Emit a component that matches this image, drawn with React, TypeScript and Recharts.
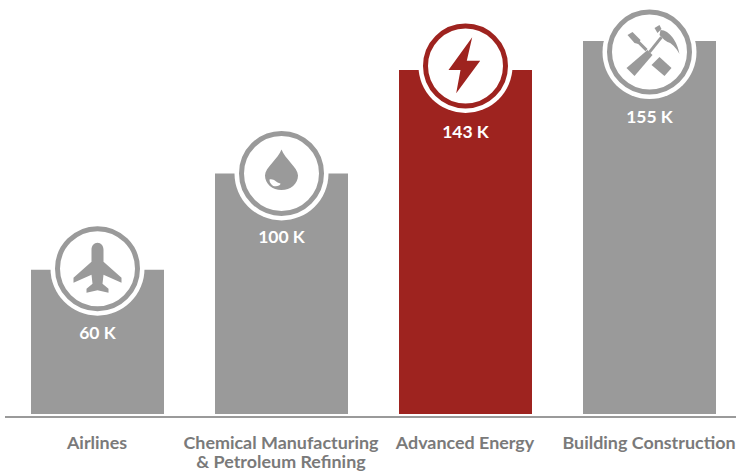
import { BarChart, Bar, XAxis, YAxis, Cell, LabelList } from "recharts";

const categories = [
  "Airlines",
  "Chemical Manufacturing\n& Petroleum Refining",
  "Advanced Energy",
  "Building Construction",
];
const jobs = [60, 100, 143, 155];
const highlighted = "Advanced Energy";

const chartData = categories.map((name, i) => ({ name, jobs: jobs[i] }));

const GREY = "#9a9a9a";
const RED = "#9e231f";
const FONT = "Lato, sans-serif";

// the badges and values don't sit at a constant spot on the bars in the original
const badgeShift = [-1, 0, -4, 11];
const valueDrop = [70.5, 69.5, 72.5, 70.5];

function Plane({ fill }: { fill: string }) {
  return (
    <path
      fill={fill}
      d="M0 -26 C3.5 -26 6 -23 6 -19 L6 -7 L24 9 L24 14 L6 6 L5 15 L11 20 L11 24 L0 21.5 L-11 24 L-11 20 L-5 15 L-6 6 L-24 14 L-24 9 L-6 -7 L-6 -19 C-6 -23 -3.5 -26 0 -26 Z"
    />
  );
}

function Drop({ fill }: { fill: string }) {
  return (
    <g>
      <path
        fill={fill}
        d="M0 -24 C3 -15 16.5 -6 16.5 2 C16.5 10.5 9 16.5 0 16.5 C-9 16.5 -16.5 10.5 -16.5 2 C-16.5 -6 -3 -15 0 -24 Z"
      />
      <path
        fill="#fff"
        d="M-12 6 C-7 5 -6 9 -1 10 C-1 13 -8 14 -10 11 C-11.5 9.5 -12 8 -12 6 Z"
      />
    </g>
  );
}

function Bolt({ fill }: { fill: string }) {
  return (
    <path
      fill={fill}
      d="M6.7 -28.7 L-17 4 L-5 4 L-9.3 27.3 L14.7 -5.3 L1.3 -5.3 Z"
    />
  );
}

function Tools({ fill }: { fill: string }) {
  return (
    <g fill={fill}>
      <path d="M-23 16 L-2 -2 L3 3 L-15 24 Z" />
      <path d="M0 0 L12 -15" stroke={fill} strokeWidth={3} />
      <path d="M5 -24 L10 -27 L12 -23 L8 -19 Z" />
      <path d="M11 -22 C20 -22 28 -10 30 2 C26 -5 22 -9 18 -10 L15 -12 L10 -17 Z" />
      <path d="M-22 -17 L-17 -20 L-9 -12 L-11 -8 L-15 -9 Z" />
      <path d="M-12 -11 L-3 -2" stroke={fill} strokeWidth={3} />
      <path d="M2 13 L10 5 L22 16 L15 24 Z" />
    </g>
  );
}

const icons = [Plane, Drop, Bolt, Tools];

function BadgeLabel(props: any) {
  const { x, y, width, index, value } = props;
  const color = categories[index] === highlighted ? RED : GREY;
  const Icon = icons[index];
  const cx = x + width / 2;
  const cy = y + badgeShift[index];
  return (
    <g>
      <circle cx={cx} cy={cy} r={47} fill="#fff" />
      <circle cx={cx} cy={cy} r={40} fill="#fff" stroke={color} strokeWidth={5} />
      <g transform={`translate(${cx},${cy})`}>
        <Icon fill={color} />
      </g>
      <text
        x={cx}
        y={cy + valueDrop[index]}
        textAnchor="middle"
        fill="#fff"
        fontFamily={FONT}
        fontWeight={700}
        fontSize={17.5}
      >
        {`${value} K`}
      </text>
    </g>
  );
}

function CategoryTick(props: any) {
  const { x, payload } = props;
  return (
    <text
      textAnchor="middle"
      fill="#7a7a7a"
      fontFamily={FONT}
      fontWeight={700}
      fontSize={17.9}
    >
      {String(payload.value)
        .split("\n")
        .map((line, i) => (
          <tspan key={i} x={x} y={449 + i * 19}>
            {line}
          </tspan>
        ))}
    </text>
  );
}

export default function App() {
  return (
    <div style={{ width: 736, height: 471, overflow: "hidden" }}>
      <style>{"body { margin: 0; }"}</style>
      <BarChart
        width={742}
        height={471}
        data={chartData}
        margin={{ top: 0, right: 1, bottom: 0, left: 5 }}
      >
        <XAxis
          dataKey="name"
          height={54}
          interval={0}
          tickLine={false}
          axisLine={{ stroke: GREY, strokeWidth: 2 }}
          tick={<CategoryTick />}
        />
        <YAxis hide domain={[-1.25, 172.07]} />
        <Bar dataKey="jobs" barSize={133} isAnimationActive={false}>
          {chartData.map((d) => (
            <Cell key={d.name} fill={d.name === highlighted ? RED : GREY} />
          ))}
          <LabelList dataKey="jobs" content={<BadgeLabel />} />
        </Bar>
      </BarChart>
    </div>
  );
}
